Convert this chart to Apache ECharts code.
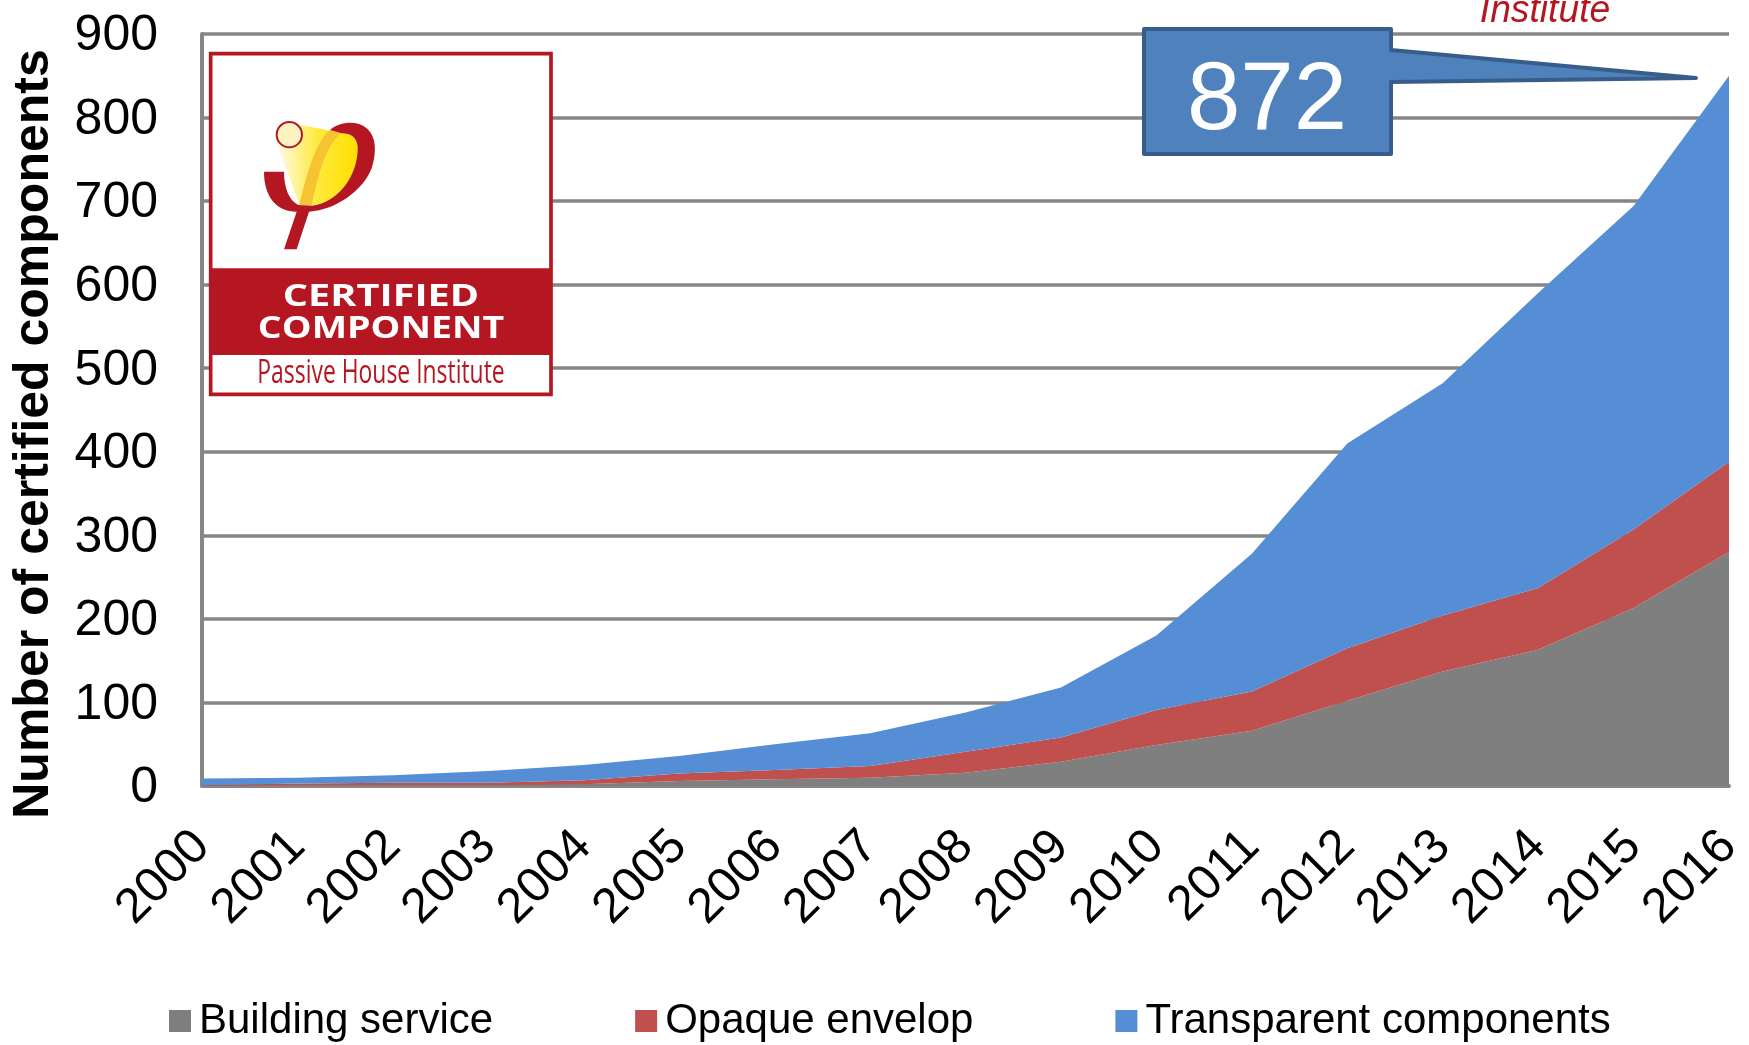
<!DOCTYPE html>
<html>
<head>
<meta charset="utf-8">
<title>Certified components</title>
<style>
html, body { margin: 0; padding: 0; background: #fff; }
#main { width: 1749px; height: 1045px; }
</style>
<script src="https://cdn.jsdelivr.net/npm/echarts@6/dist/echarts.min.js"></script>
</head>
<body>
<div id="main"></div>
<script>
var years = ['2000', '2001', '2002', '2003', '2004', '2005', '2006', '2007', '2008',
    '2009', '2010', '2011', '2012', '2013', '2014', '2015', '2016'];
var buildingService = [0, 1, 1, 1, 2, 6, 8, 10, 16, 29, 49, 66, 102, 137, 163, 213, 280];
var opaqueEnvelop = [1, 2, 3, 3, 5, 9, 11, 14, 25, 29, 42, 47, 63, 67, 74, 94, 108];
var transparentComponents = [8, 7, 9, 14, 18, 21, 31, 39, 47, 60, 89, 165, 245, 278, 353, 387, 462];

var FONT = '"Liberation Sans", Arial, sans-serif';
var RED = '#b41722';
var GRID_GREY = '#868686';

// graphic has no plain path type, so the logo shapes get registered
echarts.graphic.registerShape('logoBeam', echarts.graphic.extendPath(
    'M265 318 L328 495 L370 495 C440 490 505 410 503 320 C500 290 480 280 455 280 L335 255 Z', {}));
echarts.graphic.registerShape('logoBand', echarts.graphic.extendPath(
    'M328 495 C350 400 380 300 420 270 L455 280 C410 310 385 400 365 497 Z', {}));
echarts.graphic.registerShape('logoSwoosh', echarts.graphic.extendPath(
    'M222 395 L282 395 C282 440 295 480 325 495 L365 497 C440 490 505 410 503 320 C500 290 480 280 455 280 L420 270 C450 245 500 240 530 265 C560 290 560 340 545 385 C520 450 440 510 357 515 L320 628 L282 628 L320 515 C260 515 222 470 222 395 Z', {}));

function area(name, values, color) {
    return {
        name: name,
        type: 'line',
        stack: 'total',
        data: values,
        symbol: 'none',
        lineStyle: { width: 0 },
        itemStyle: { color: color },
        areaStyle: { color: color, opacity: 1 }
    };
}

var option = {
    animation: false,
    backgroundColor: '#fff',
    grid: { left: 202, right: 20, top: 34, bottom: 259, containLabel: false, outerBoundsMode: 'none' },
    legend: {
        left: 164,
        top: 995,
        itemGap: 142,
        itemWidth: 22,
        itemHeight: 22,
        icon: 'rect',
        textStyle: { fontFamily: FONT, fontSize: 42, color: '#000', padding: [0, 0, 0, 3] },
        data: ['Building service', 'Opaque envelop', 'Transparent components']
    },
    xAxis: {
        type: 'category',
        data: years,
        boundaryGap: false,
        axisTick: { show: false },
        axisLine: { lineStyle: { color: GRID_GREY, width: 4 } },
        axisLabel: { rotate: 45, interval: 0, fontFamily: FONT, fontSize: 49, color: '#000', margin: 53 }
    },
    yAxis: {
        type: 'value',
        min: 0,
        max: 900,
        interval: 100,
        name: 'Number of certified components',
        nameLocation: 'middle',
        nameGap: 143,
        nameTextStyle: { fontFamily: FONT, fontSize: 50, fontWeight: 'bold', color: '#000', padding: [0, 48, 0, 0] },
        axisTick: { show: false },
        axisLine: { show: true, lineStyle: { color: GRID_GREY, width: 4 } },
        axisLabel: {
            margin: 44,
            formatter: '{v|{value}}',
            rich: { v: { fontFamily: FONT, fontSize: 50, color: '#000', padding: [5, 0, 0, 0] } }
        },
        splitLine: { lineStyle: { color: GRID_GREY, width: 3.5 } }
    },
    series: [
        area('Building service', buildingService, '#7f7f7f'),
        area('Opaque envelop', opaqueEnvelop, '#c0504d'),
        area('Transparent components', transparentComponents, '#558ed5')
    ],
    graphic: [
        // callout
        {
            type: 'polygon',
            z: 20,
            shape: { points: [[1144, 29], [1391, 29], [1391, 50], [1696, 78], [1391, 82], [1391, 154], [1144, 154]] },
            style: { fill: '#4f81bd', stroke: '#385d8a', lineWidth: 4, lineJoin: 'round' }
        },
        {
            type: 'text',
            z: 21,
            x: 1267,
            y: 103,
            style: { text: '872', fill: '#fff', font: '96px ' + FONT, align: 'center', verticalAlign: 'middle' }
        },
        // cut off text above the chart
        {
            type: 'text',
            z: 21,
            x: 1545,
            y: 30,
            scaleX: 0.98,
            style: { text: 'Institute', fill: RED, font: 'italic 38px ' + FONT, align: 'center', verticalAlign: 'bottom' }
        },
        // logo, drawn in crop pixels and scaled down
        {
            type: 'group',
            x: 190,
            y: 40,
            scaleX: 1 / 3,
            scaleY: 1 / 3,
            z: 20,
            children: [
                { type: 'rect', z: 20, shape: { x: 62, y: 41, width: 1021, height: 1022 }, style: { fill: '#fff', stroke: RED, lineWidth: 11 } },
                { type: 'rect', z: 21, shape: { x: 62, y: 685, width: 1021, height: 260 }, style: { fill: RED } },
                {
                    type: 'logoBeam', z: 21,
                    style: { fill: new echarts.graphic.LinearGradient(0, 0, 1, 0, [
                        { offset: 0, color: '#fffbe6' }, { offset: 0.5, color: '#ffe93a' }, { offset: 1, color: '#ffe000' }
                    ]) }
                },
                { type: 'logoBand', z: 22, style: { fill: '#f6c332' } },
                { type: 'logoSwoosh', z: 23, style: { fill: RED } },
                { type: 'circle', z: 24, shape: { cx: 298, cy: 284, r: 38 }, style: { fill: '#fbf3c0', stroke: RED, lineWidth: 6 } },
                {
                    type: 'text', z: 24, x: 573, y: 772, scaleX: 3.84, scaleY: 3,
                    style: { text: 'CERTIFIED', fill: '#fff', font: 'bold 31px "Open Sans", sans-serif', align: 'center', verticalAlign: 'middle' }
                },
                {
                    type: 'text', z: 24, x: 573, y: 869, scaleX: 3.63, scaleY: 3,
                    style: { text: 'COMPONENT', fill: '#fff', font: 'bold 31px "Open Sans", sans-serif', align: 'center', verticalAlign: 'middle' }
                },
                {
                    type: 'text', z: 24, x: 573, y: 1000, scaleX: 2.29, scaleY: 3.3,
                    style: { text: 'Passive House Institute', fill: RED, font: '30px "Open Sans", sans-serif', align: 'center', verticalAlign: 'middle' }
                }
            ]
        }
    ]
};

var myChart = echarts.init(document.getElementById('main'));
myChart.setOption(option);
</script>
</body>
</html>
